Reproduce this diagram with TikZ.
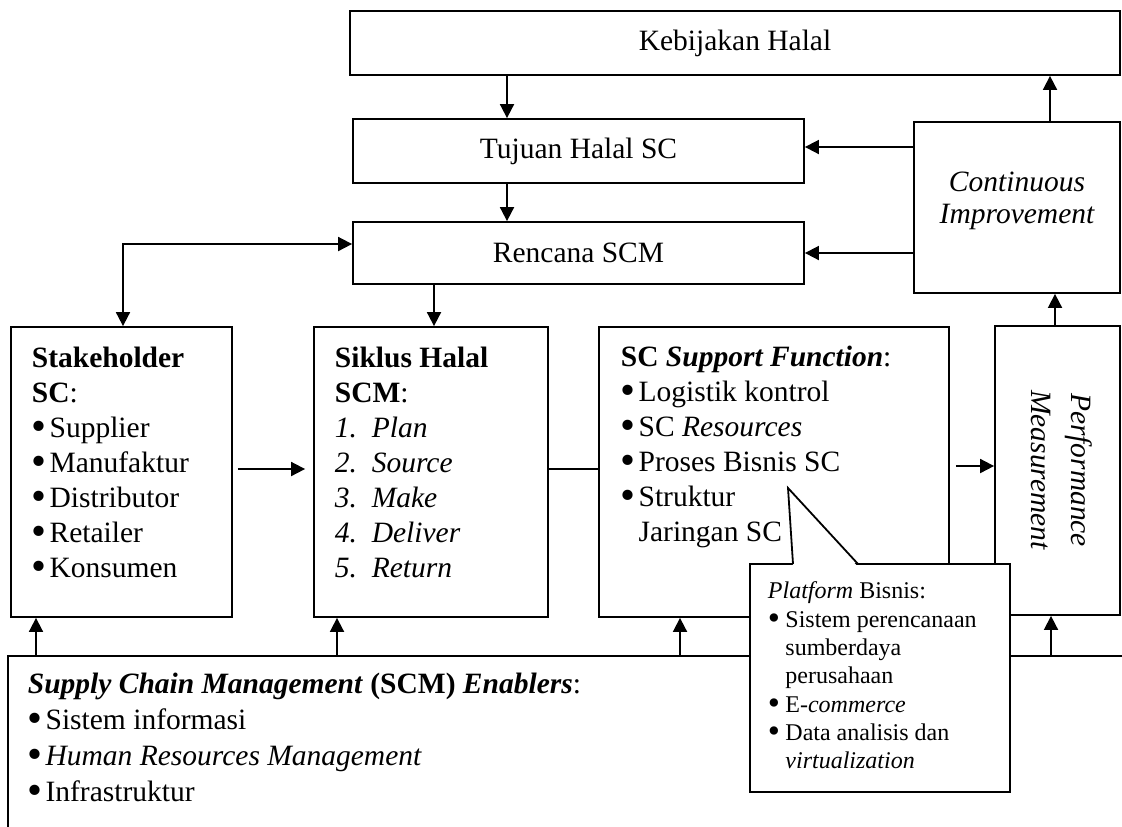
\documentclass[tikz,border=0pt]{standalone}
\usepackage{fontspec}
\usepackage{graphicx}
\setmainfont{Liberation Serif}
\usetikzlibrary{arrows.meta,fit}
\newcommand\bigbul{\makebox[0.35em][l]{\smash{\raisebox{-0.1em}{\scalebox{1.45}{\textbullet}}}}}
\newcommand\bulx{\bigbul\hspace{0.25em}}
\newcommand\bulcont{\hspace{0.6em}}
\newcommand\bulc{\bigbul\hspace{0.38em}}
\newcommand\bulcc{\hspace{0.73em}}
\newcommand\numit[2]{\textit{\makebox[1.25em][l]{#1}#2}}
\begin{document}
\begin{tikzpicture}[x=0.5pt,y=-0.5pt,line width=0.9pt,
  box/.style={draw,inner sep=0pt,fill=white},
  arr/.style={-{Triangle[length=7pt,width=7pt]}},
  dbl/.style={{Triangle[length=7pt,width=7pt]}-{Triangle[length=7pt,width=7pt]}},
  txt/.style={inner sep=0pt,font=\fontsize{14.75pt}{17.5pt}\selectfont,align=left,anchor=north west},
  ctxt/.style={inner sep=0pt,font=\fontsize{14.75pt}{17.5pt}\selectfont,align=center},
  smalltxt/.style={inner sep=0pt,font=\fontsize{12pt}{14.15pt}\selectfont,align=left,anchor=north west}]
\useasboundingbox (0,0) rectangle (1122,826);
\clip (0,0) rectangle (1122,826);
\fill[white] (0,0) rectangle (1122,826);

% top boxes
\node[box,fit={(350,11)(1120,75)}] (keb) {};
\node[ctxt] (kebt) at (keb.center) {Kebijakan Halal};
\node[box,fit={(353,119)(804,183)}] (tuj) {};
\node[ctxt] (tujt) at (tuj.center) {Tujuan Halal SC};
\node[box,fit={(353,222)(804,284)}] (ren) {};
\node[ctxt] (rent) at (ren.center) {Rencana SCM};
\node[box,fit={(914,122)(1120,293)}] (ci) {};
\node[ctxt,font=\fontsize{14.75pt}{16pt}\selectfont\itshape] (cit) at (1017,201) {Continuous\\Improvement};

% middle boxes
\node[box,fit={(11,327)(232,617)}] (stk) {};
\node[txt] (stkt) at (31,346) {\textbf{Stakeholder}\\\textbf{SC}:\\\bulx Supplier\\\bulx Manufaktur\\\bulx Distributor\\\bulx Retailer\\\bulx Konsumen};
\node[box,fit={(314,327)(548,617)}] (sik) {};
\node[txt] (sikt) at (334,346) {\textbf{Siklus Halal}\\\textbf{SCM}:\\\numit{1.}{Plan}\\\numit{2.}{Source}\\\numit{3.}{Make}\\\numit{4.}{Deliver}\\\numit{5.}{Return}};
\node[box,fit={(599,327)(949,617)}] (sup) {};
\node[txt] (supt) at (620,345) {\textbf{SC \textit{Support Function}}:\\\bulx Logistik kontrol\\\bulx SC \textit{Resources}\\\bulx Proses Bisnis SC\\\bulx Struktur\\\bulcont Jaringan SC};
\node[box,fit={(995,326)(1120,615)}] (perf) {};
\node[ctxt,rotate=-90,font=\fontsize{14.75pt}{20pt}\selectfont\itshape] (perft) at (1062,470) {Performance\\Measurement};

% enablers box
\node[box,fit={(8,656)(1160,860)}] (enab) {};
\node[txt,font=\fontsize{14.75pt}{18pt}\selectfont] (enabt) at (27,672) {\textbf{\textit{Supply Chain Management}} \textbf{(SCM)} \textbf{\textit{Enablers}}:\\\bulx Sistem informasi\\\bulx \textit{Human Resources Management}\\\bulx Infrastruktur};

% helper coordinates
\coordinate (xa) at (507,0);
\coordinate (xb) at (434,0);
\coordinate (xc) at (123,244);
\coordinate (xd) at (1050,0);
\coordinate (xe) at (1055,0);
\coordinate (ya) at (0,147);
\coordinate (yb) at (0,253);
\coordinate (yc) at (0,469);
\coordinate (yd) at (0,466);
\coordinate (e1) at (36,0);
\coordinate (e2) at (337,0);
\coordinate (e3) at (680,0);
\coordinate (e4) at (1051,0);

% connectors
\draw[arr] (keb.south -| xa) -- (tuj.north -| xa);
\draw[arr] (tuj.south -| xa) -- (ren.north -| xa);
\draw[arr] (ren.south -| xb) -- (sik.north -| xb);
\draw[dbl] (stk.north -| xc) |- (ren.west |- xc);
\draw[arr] (ci.west |- ya) -- (tuj.east |- ya);
\draw[arr] (ci.west |- yb) -- (ren.east |- yb);
\draw[arr] (ci.north -| xd) -- (keb.south -| xd);
\draw[arr] (perf.north -| xe) -- (ci.south -| xe);
\draw[arr,shorten <=2.5pt,shorten >=4pt] (stk.east |- yc) -- (sik.west |- yc);
\draw (sik.east |- yc) -- (sup.west |- yc);
\draw[arr,shorten <=3pt] (sup.east |- yd) -- (perf.west |- yd);
\draw[arr] (enab.north -| e1) -- (stk.south -| e1);
\draw[arr] (enab.north -| e2) -- (sik.south -| e2);
\draw[arr] (enab.north -| e3) -- (sup.south -| e3);
\draw[arr] (enab.north -| e4) -- (perf.south -| e4);

% callout
\node[box,fit={(750,564)(1010,792)}] (call) {};
\coordinate (tip) at (788,488);
\coordinate (tl) at (793,564);
\coordinate (tr) at (858,564);
\fill[white] ([yshift=-1.5pt]tl) -- (tip) -- ([yshift=-1.5pt]tr) -- cycle;
\draw (tl) -- (tip) -- (tr);
\node[smalltxt] (callt) at (767,581) {\textit{Platform} Bisnis:\\\bulc Sistem perencanaan\\\bulcc sumberdaya\\\bulcc perusahaan\\\bulc E-\textit{commerce}\\\bulc Data analisis dan\\\bulcc \textit{virtualization}};
\end{tikzpicture}
\end{document}
